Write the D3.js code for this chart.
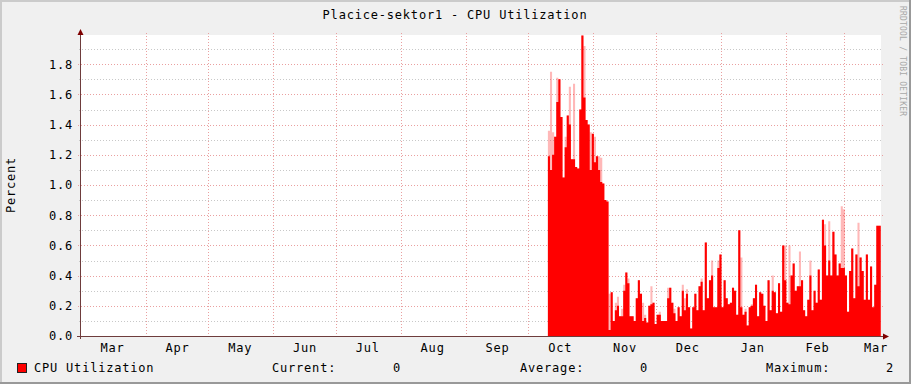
<!DOCTYPE html>
<html><head><meta charset="utf-8">
<script src="https://cdn.jsdelivr.net/npm/d3@7"></script>
<style>
body{margin:0;background:#f0f0f0;}
svg text{font-family:"DejaVu Sans Mono",monospace;}
</style>
</head><body>
<svg id="chart" width="911" height="384"></svg>
<script>
// ---------------- data ----------------
const chartTitle = "Placice-sektor1 - CPU Utilization";
const yAxisTitle = "Percent";
const seriesName = "CPU Utilization";
const watermark = "RRDTOOL / TOBI OETIKER";
const monthLabels = ["Mar","Apr","May","Jun","Jul","Aug","Sep","Oct","Nov","Dec","Jan","Feb","Mar"];
const yTickValues = [0.0,0.2,0.4,0.6,0.8,1.0,1.2,1.4,1.6,1.8];
const yMinorValues = [0.1,0.3,0.5,0.7,0.9,1.1,1.3,1.5,1.7,1.9];
const timeStart = Date.UTC(2014,2,1,2);
const timeEnd = Date.UTC(2015,2,18,13);
const dataStart = Date.UTC(2014,9,10,7);
// one value per day (solid level)
const cpuValues = [
 1.19,1.10,1.20,1.32,1.55,1.70,1.45,1.05,1.25,1.46,
 1.40,1.17,1.17,1.12,1.11,1.50,1.99,1.58,1.43,1.40,
 1.10,1.34,1.15,1.19,1.10,1.02,1.01,0.90,0.89,0.04,
 0.29,0.10,0.17,0.20,0.13,0.13,0.30,0.42,0.35,0.13,
 0.13,0.10,0.25,0.37,0.28,0.10,0.12,0.09,0.20,0.21,
 0.22,0.08,0.14,0.14,0.10,0.10,0.10,0.25,0.32,0.22,
 0.15,0.10,0.19,0.13,0.30,0.17,0.28,0.19,0.05,0.19,
 0.28,0.17,0.33,0.36,0.17,0.62,0.25,0.37,0.40,0.19,
 0.19,0.45,0.54,0.19,0.37,0.25,0.21,0.22,0.32,0.30,
 0.14,0.70,0.19,0.14,0.16,0.07,0.19,0.20,0.25,0.34,
 0.13,0.29,0.28,0.20,0.10,0.37,0.17,0.30,0.29,0.15,
 0.35,0.16,0.60,0.37,0.22,0.21,0.40,0.48,0.30,0.33,
 0.33,0.37,0.17,0.13,0.24,0.40,0.17,0.30,0.22,0.44,
 0.24,0.77,0.60,0.40,0.50,0.40,0.69,0.54,0.40,0.48,
 0.45,0.45,0.40,0.16,0.43,0.58,0.25,0.54,0.33,0.52,
 0.43,0.24,0.54,0.24,0.46,0.19,0.34,0.73
];
// short-lived peaks within each day (drawn faded)
const cpuPeaks = [
 1.36,1.75,1.35,1.32,1.71,1.70,1.45,1.05,1.32,1.46,
 1.65,1.17,1.67,1.12,1.11,1.50,1.99,1.92,1.43,1.40,
 1.35,1.34,1.32,1.19,1.19,1.18,1.01,0.90,0.89,0.28,
 0.29,0.10,0.22,0.26,0.13,0.18,0.34,0.42,0.38,0.13,
 0.13,0.10,0.25,0.37,0.28,0.22,0.14,0.09,0.20,0.33,
 0.22,0.08,0.14,0.16,0.10,0.10,0.10,0.32,0.32,0.22,
 0.18,0.10,0.19,0.13,0.34,0.25,0.31,0.19,0.05,0.19,
 0.28,0.17,0.33,0.38,0.17,0.62,0.25,0.37,0.50,0.19,
 0.19,0.50,0.54,0.19,0.37,0.25,0.21,0.22,0.32,0.30,
 0.14,0.70,0.52,0.14,0.18,0.07,0.19,0.21,0.25,0.34,
 0.13,0.29,0.28,0.20,0.10,0.37,0.17,0.40,0.29,0.15,
 0.35,0.16,0.60,0.60,0.22,0.60,0.40,0.48,0.30,0.33,
 0.56,0.37,0.17,0.13,0.24,0.50,0.17,0.30,0.22,0.44,
 0.24,0.77,0.74,0.40,0.76,0.40,0.69,0.54,0.40,0.48,
 0.86,0.84,0.40,0.16,0.43,0.58,0.25,0.54,0.75,0.52,
 0.43,0.24,0.54,0.24,0.46,0.19,0.34,0.73
];
const legendLabels = ["Current:","Average:","Maximum:"];
const legendValues = ["0","0","2"];

// ---------------- drawing ----------------
const W = 911, H = 384;
const svg = d3.select("#chart");
const plot = {left:81, right:881, top:35, bottom:336};
const x = d3.scaleUtc().domain([timeStart, timeEnd]).range([plot.left, plot.right]);
const y = d3.scaleLinear().domain([0, 2]).range([plot.bottom, plot.bottom - 2*151]);
const font = {size:"12px", ls:"0.8px"};

// background + 3D border
svg.append("rect").attr("width",W).attr("height",H).attr("fill","#f0f0f0");
svg.append("path").attr("d",`M0,${H} V0 H${W}`).attr("fill","none").attr("stroke","#cbcbcb").attr("stroke-width",4);
svg.append("path").attr("d",`M0,${H} H${W} V0`).attr("fill","none").attr("stroke","#999999").attr("stroke-width",4);

// canvas
svg.append("rect").attr("x",plot.left).attr("y",plot.top)
  .attr("width",plot.right-plot.left).attr("height",plot.bottom-plot.top).attr("fill","#ffffff");

// grid
const gGrid = svg.append("g");
gGrid.selectAll(".hmin").data(yMinorValues).join("line")
  .attr("x1",plot.left-2).attr("x2",plot.right+2)
  .attr("y1",d=>Math.round(y(d))+0.5).attr("y2",d=>Math.round(y(d))+0.5)
  .attr("stroke","#c8c8c8").attr("stroke-dasharray","1,2");
gGrid.selectAll(".hmaj").data(yTickValues.filter(d=>d>0)).join("line")
  .attr("x1",plot.left-3).attr("x2",plot.right+2)
  .attr("y1",d=>Math.round(y(d))+0.5).attr("y2",d=>Math.round(y(d))+0.5)
  .attr("stroke","#eaa0a0").attr("stroke-dasharray","1,2");
const months = d3.utcMonth.range(Date.UTC(2014,2,1), Date.UTC(2015,3,1));
const gridMonths = months.filter(d => d > timeStart && d < timeEnd);
gGrid.selectAll(".vmaj").data(gridMonths).join("line")
  .attr("x1",d=>Math.round(x(d))+0.5).attr("x2",d=>Math.round(x(d))+0.5)
  .attr("y1",plot.top-2).attr("y2",plot.bottom+3)
  .attr("stroke","#eaa0a0").attr("stroke-dasharray","1,2");

// data
const day = 864e5;
const pts = cpuValues.map((v,i)=>({t:dataStart+i*day, v:v, p:cpuPeaks[i]}));
pts.push({t:timeEnd - 3*36e5, v:cpuValues[cpuValues.length-1], p:cpuPeaks[cpuPeaks.length-1]});
const areaPeak = d3.area().curve(d3.curveStepAfter)
  .x(d=>x(d.t)).y0(y(0)).y1(d=>y(d.p));
const areaMain = d3.area().curve(d3.curveStepAfter)
  .x(d=>x(d.t)).y0(y(0)).y1(d=>y(d.v));
svg.append("path").datum(pts).attr("d",areaPeak).attr("fill","#ff0000").attr("fill-opacity",0.28);
svg.append("path").datum(pts).attr("d",areaMain).attr("fill","#ff0000");

// axes
const axisCol = "#6e3c3c", arrowCol = "#7f0000";
svg.append("line").attr("x1",80.5).attr("x2",80.5).attr("y1",plot.bottom+3).attr("y2",plot.top-3)
  .attr("stroke",axisCol);
svg.append("line").attr("x1",77).attr("x2",884).attr("y1",336.5).attr("y2",336.5)
  .attr("stroke",axisCol);
svg.append("path").attr("d","M77.5,35 L80.5,29 L83.5,35 Z").attr("fill",arrowCol);
svg.append("path").attr("d","M883,333.5 L889,336.5 L883,339.5 Z").attr("fill",arrowCol);

// y tick labels
svg.append("g").selectAll("text").data(yTickValues).join("text")
  .attr("x",73).attr("y",d=>y(d)).attr("dy","0.36em")
  .attr("text-anchor","end").attr("font-size",font.size).attr("letter-spacing",font.ls)
  .attr("fill","#000").text(d=>d3.format(".1f")(d));

// x labels (mid-month)
svg.append("g").selectAll("text").data(months).join("text")
  .attr("x",d=>x(d3.utcDay.offset(d,15))+0.4).attr("y",348).attr("dy","0.36em")
  .attr("text-anchor","middle").attr("font-size",font.size).attr("letter-spacing",font.ls)
  .attr("fill","#000").text((d,i)=>monthLabels[i]);

// title
svg.append("text").attr("x",455).attr("y",15).attr("dy","0.36em")
  .attr("text-anchor","middle").attr("font-size",font.size).attr("letter-spacing",font.ls)
  .text(chartTitle);

// y axis title
svg.append("text").attr("transform","translate(11,185) rotate(-90)").attr("dy","0.36em")
  .attr("text-anchor","middle").attr("font-size",font.size).attr("letter-spacing",font.ls)
  .text(yAxisTitle);

// watermark
svg.append("text").attr("transform","translate(900,6) rotate(90)")
  .attr("font-size","8px").attr("fill","#a8a8a8").attr("letter-spacing","0.2px")
  .text(watermark);

// legend
svg.append("rect").attr("x",17.5).attr("y",363.5).attr("width",9).attr("height",9)
  .attr("fill","#ff0000").attr("stroke","#222");
svg.append("text").attr("x",34).attr("y",368).attr("dy","0.36em")
  .attr("font-size",font.size).attr("letter-spacing",font.ls).text(seriesName);
const legLabX = [272,520,766], legValX = [401,648,894];
svg.append("g").selectAll("text").data(legendLabels).join("text")
  .attr("x",(d,i)=>legLabX[i]).attr("y",368).attr("dy","0.36em")
  .attr("font-size",font.size).attr("letter-spacing",font.ls).text(d=>d);
svg.append("g").selectAll("text").data(legendValues).join("text")
  .attr("x",(d,i)=>legValX[i]).attr("y",368).attr("dy","0.36em").attr("text-anchor","end")
  .attr("font-size",font.size).attr("letter-spacing",font.ls).text(d=>d);
</script>
</body></html>
